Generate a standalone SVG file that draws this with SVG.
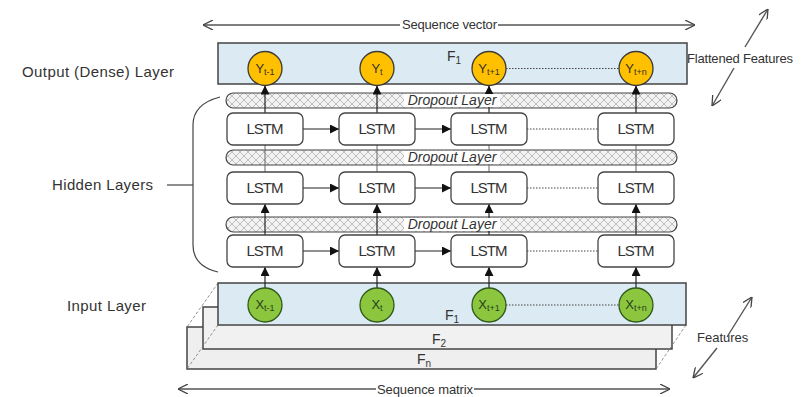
<svg xmlns="http://www.w3.org/2000/svg" width="802" height="397" viewBox="0 0 802 397">
<defs>
<pattern id="hatch" width="8" height="8" patternUnits="userSpaceOnUse">
<rect width="8" height="8" fill="#f3f3f3"/>
<path d="M0,0 L8,8 M8,0 L0,8" stroke="#a8a8a8" stroke-width="0.7"/>
</pattern>
<marker id="ah" viewBox="0 0 10 10" refX="10" refY="5" markerWidth="9" markerHeight="9" markerUnits="userSpaceOnUse" orient="auto">
<path d="M0,0 L10,5 L0,10 z" fill="#111"/>
</marker>
<marker id="open" viewBox="0 0 10 10" refX="10" refY="5" markerWidth="10" markerHeight="10" markerUnits="userSpaceOnUse" orient="auto">
<path d="M0,0 L10,5 L0,10" fill="none" stroke="#444" stroke-width="1.3"/>
</marker>
</defs>
<style>
text{font-family:"Liberation Sans",Arial,sans-serif;fill:#333}
.lbl{font-size:15px}
.sm{font-size:13px}
.fl{font-size:14px}
.lstm rect{fill:#fff;stroke:#444;stroke-width:1.3}
.lstm text{font-size:15px;text-anchor:middle}
.drop rect.cap{fill:url(#hatch);stroke:#444;stroke-width:1.2}
.drop rect.bg{fill:#fff}
.drop text{font-size:14px;font-style:italic;text-anchor:middle}
.yc circle{fill:#FFC000;stroke:#3a3a3a;stroke-width:1.3}
.yc text{font-size:13px;text-anchor:middle;fill:#3a3020}
.xc circle{fill:#8CC63F;stroke:#2f5a1c;stroke-width:1.3}
.xc text{font-size:13px;text-anchor:middle;fill:#25421a}
.sub{font-size:9px}
.fsub{font-size:10px}
.vl{stroke:#666;stroke-width:1}
.ar{stroke:#222;stroke-width:1.2;marker-end:url(#ah)}
.dot{stroke:#444;stroke-width:1;stroke-dasharray:1.5 1.5}
.thin{stroke:#444;stroke-width:1.2;fill:none}
.dash{stroke:#777;stroke-width:0.8;stroke-dasharray:3 2}
.feat{stroke:#555;stroke-width:1.4;fill:none;marker-end:url(#open)}
</style>
<rect width="802" height="397" fill="#fff"/>

<g id="labels">
<text class="lbl" x="22" y="77" textLength="152">Output (Dense) Layer</text>
<text class="lbl" x="52" y="190" textLength="101">Hidden Layers</text>
<text class="lbl" x="67" y="311" textLength="79">Input Layer</text>
<path class="thin" d="M220,97 Q193,104 193,125 L193,245 Q193,266 218,272"/>
<path class="thin" d="M167,185 L193,185"/>
</g>

<g id="sequence-vector">
<line class="feat" x1="400" y1="25" x2="203" y2="25"/>
<line class="feat" x1="498" y1="25" x2="695" y2="25"/>
<text class="sm" x="402" y="29" textLength="95">Sequence vector</text>
</g>

<g id="flattened-features">
<text class="sm" x="687" y="63" textLength="106">Flattened Features</text>
<line class="feat" x1="745" y1="47" x2="768" y2="9"/>
<line class="feat" x1="734" y1="68" x2="712" y2="106"/>
</g>

<g id="input-stack">
<rect x="187" y="327" width="469" height="42" fill="#efefef" stroke="#444" stroke-width="1.5"/>
<rect x="203" y="307" width="469" height="42" fill="#f1f1f1" stroke="#444" stroke-width="1.5"/>
<line class="dash" x1="218" y1="283" x2="187" y2="327"/>
<line class="dash" x1="218" y1="325" x2="187" y2="369"/>
<line class="dash" x1="686" y1="325" x2="656" y2="369"/>
<rect id="input-f1" x="218" y="283" width="468" height="42" fill="#dbeaf3" stroke="#444" stroke-width="1.5"/>
<text class="fl" x="445" y="320">F<tspan class="fsub" dy="3">1</tspan></text>
<text class="fl" x="432" y="344">F<tspan class="fsub" dy="3">2</tspan></text>
<text class="fl" x="417" y="364">F<tspan class="fsub" dy="3">n</tspan></text>
</g>

<g id="output-layer">
<rect x="218" y="43" width="469" height="41" fill="#dbeaf3" stroke="#444" stroke-width="1.5"/>
<text class="fl" x="447" y="61">F<tspan class="fsub" dy="3">1</tspan></text>
</g>

<g id="features">
<text class="sm" x="697" y="342">Features</text>
<line class="feat" x1="727" y1="337" x2="752" y2="297"/>
<line class="feat" x1="717" y1="348" x2="693" y2="378"/>
</g>

<g id="sequence-matrix">
<line class="feat" x1="376" y1="389" x2="178" y2="389"/>
<line class="feat" x1="474" y1="389" x2="670" y2="389"/>
<text class="sm" x="377" y="394" textLength="96">Sequence matrix</text>
</g>

<g id="dropout-1" class="drop">
<rect class="cap" x="226" y="93" width="451" height="15" rx="7.5"/>
</g>
<g id="dropout-2" class="drop">
<rect class="cap" x="226" y="150" width="451" height="15" rx="7.5"/>
</g>
<g id="dropout-3" class="drop">
<rect class="cap" x="226" y="217" width="451" height="15" rx="7.5"/>
</g>

<g id="connectors">
<line class="ar" x1="265" y1="288" x2="265" y2="267"/>
<line class="ar" x1="377" y1="288" x2="377" y2="267"/>
<line class="ar" x1="489" y1="288" x2="489" y2="267"/>
<line class="ar" x1="636" y1="288" x2="636" y2="267"/>
<line class="ar" x1="265" y1="235" x2="265" y2="204"/>
<line class="ar" x1="377" y1="235" x2="377" y2="204"/>
<line class="ar" x1="489" y1="235" x2="489" y2="204"/>
<line class="ar" x1="636" y1="235" x2="636" y2="204"/>
<line class="vl" x1="265" y1="172" x2="265" y2="145"/>
<line class="vl" x1="377" y1="172" x2="377" y2="145"/>
<line class="vl" x1="489" y1="172" x2="489" y2="145"/>
<line class="vl" x1="636" y1="172" x2="636" y2="145"/>
<line class="ar" x1="265" y1="113" x2="265" y2="85.5"/>
<line class="ar" x1="377" y1="113" x2="377" y2="85.5"/>
<line class="ar" x1="489" y1="113" x2="489" y2="85.5"/>
<line class="ar" x1="636" y1="113" x2="636" y2="85.5"/>
<line class="ar" x1="303" y1="129" x2="339" y2="129"/>
<line class="ar" x1="415" y1="129" x2="451" y2="129"/>
<line class="dot" x1="527" y1="129" x2="598" y2="129"/>
<line class="ar" x1="303" y1="188" x2="339" y2="188"/>
<line class="ar" x1="415" y1="188" x2="451" y2="188"/>
<line class="dot" x1="527" y1="188" x2="598" y2="188"/>
<line class="ar" x1="303" y1="251" x2="339" y2="251"/>
<line class="ar" x1="415" y1="251" x2="451" y2="251"/>
<line class="dot" x1="527" y1="251" x2="598" y2="251"/>
<line class="dot" x1="506" y1="68.5" x2="619" y2="68.5"/>
<line class="dot" x1="506" y1="305" x2="619" y2="305"/>
</g>

<g id="dropout-labels" class="drop">
<rect class="bg" x="404" y="94" width="96" height="13"/>
<text x="452" y="105">Dropout Layer</text>
<rect class="bg" x="404" y="151" width="96" height="13"/>
<text x="452" y="162">Dropout Layer</text>
<rect class="bg" x="404" y="218" width="96" height="13"/>
<text x="452" y="229">Dropout Layer</text>
</g>

<g id="lstm-1-1" class="lstm"><rect x="227" y="113" width="76" height="32" rx="6"/><text x="265" y="134" textLength="37">LSTM</text></g>
<g id="lstm-1-2" class="lstm"><rect x="339" y="113" width="76" height="32" rx="6"/><text x="377" y="134" textLength="37">LSTM</text></g>
<g id="lstm-1-3" class="lstm"><rect x="451" y="113" width="76" height="32" rx="6"/><text x="489" y="134" textLength="37">LSTM</text></g>
<g id="lstm-1-4" class="lstm"><rect x="598" y="113" width="76" height="32" rx="6"/><text x="636" y="134" textLength="37">LSTM</text></g>
<g id="lstm-2-1" class="lstm"><rect x="227" y="172" width="76" height="32" rx="6"/><text x="265" y="193" textLength="37">LSTM</text></g>
<g id="lstm-2-2" class="lstm"><rect x="339" y="172" width="76" height="32" rx="6"/><text x="377" y="193" textLength="37">LSTM</text></g>
<g id="lstm-2-3" class="lstm"><rect x="451" y="172" width="76" height="32" rx="6"/><text x="489" y="193" textLength="37">LSTM</text></g>
<g id="lstm-2-4" class="lstm"><rect x="598" y="172" width="76" height="32" rx="6"/><text x="636" y="193" textLength="37">LSTM</text></g>
<g id="lstm-3-1" class="lstm"><rect x="227" y="235" width="76" height="32" rx="6"/><text x="265" y="256" textLength="37">LSTM</text></g>
<g id="lstm-3-2" class="lstm"><rect x="339" y="235" width="76" height="32" rx="6"/><text x="377" y="256" textLength="37">LSTM</text></g>
<g id="lstm-3-3" class="lstm"><rect x="451" y="235" width="76" height="32" rx="6"/><text x="489" y="256" textLength="37">LSTM</text></g>
<g id="lstm-3-4" class="lstm"><rect x="598" y="235" width="76" height="32" rx="6"/><text x="636" y="256" textLength="37">LSTM</text></g>

<g id="y-t-1" class="yc"><circle cx="265" cy="68.5" r="17"/><text x="265" y="73">Y<tspan class="sub" dy="2">t-1</tspan></text></g>
<g id="y-t" class="yc"><circle cx="377" cy="68.5" r="17"/><text x="377" y="73">Y<tspan class="sub" dy="2">t</tspan></text></g>
<g id="y-t+1" class="yc"><circle cx="489" cy="68.5" r="17"/><text x="489" y="73">Y<tspan class="sub" dy="2">t+1</tspan></text></g>
<g id="y-t+n" class="yc"><circle cx="636" cy="68.5" r="17"/><text x="636" y="73">Y<tspan class="sub" dy="2">t+n</tspan></text></g>

<g id="x-t-1" class="xc"><circle cx="265" cy="305" r="17"/><text x="265" y="309">X<tspan class="sub" dy="2">t-1</tspan></text></g>
<g id="x-t" class="xc"><circle cx="377" cy="305" r="17"/><text x="377" y="309">X<tspan class="sub" dy="2">t</tspan></text></g>
<g id="x-t+1" class="xc"><circle cx="489" cy="305" r="17"/><text x="489" y="309">X<tspan class="sub" dy="2">t+1</tspan></text></g>
<g id="x-t+n" class="xc"><circle cx="636" cy="305" r="17"/><text x="636" y="309">X<tspan class="sub" dy="2">t+n</tspan></text></g>
</svg>
